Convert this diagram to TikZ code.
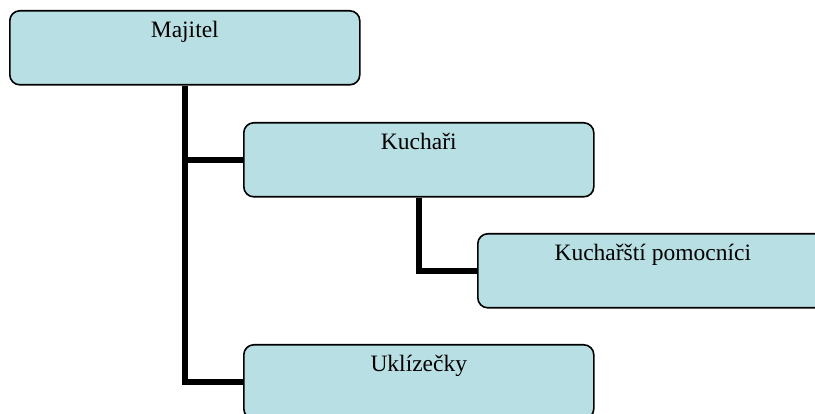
\documentclass[tikz,border=0pt]{standalone}
\usepackage{fontspec}
\setmainfont{Liberation Serif}
\usetikzlibrary{backgrounds}
\definecolor{boxfill}{HTML}{B8DFE3}
\begin{document}
\begin{tikzpicture}[x=1pt,y=-1pt,
  orgbox/.style={draw=black, line width=1.6pt, fill=boxfill, rounded corners=10pt,
    minimum width=350pt, inner xsep=0pt, inner ysep=0pt,
    text height=27pt, text depth=47pt, anchor=north west,
    font=\fontsize{23.5}{28}\selectfont},
  conn/.style={line width=6pt, draw=black}]
\clip (0,0) rectangle (815,414);
\node[orgbox] (maj) at (9,10) {Majitel};
\node[orgbox] (kuch) at (243,122) {Kuchaři};
\node[orgbox] (pom) at (477,233) {Kuchařští pomocníci};
\node[orgbox] (uk) at (243,344) {Uklízečky};
\begin{scope}[on background layer]
\draw[conn] (maj.south) |- (uk.west);
\draw[conn] (maj.south |- kuch.west) -- (kuch.west);
\draw[conn] (kuch.south) |- (pom.west);
\end{scope}
\end{tikzpicture}
\end{document}
